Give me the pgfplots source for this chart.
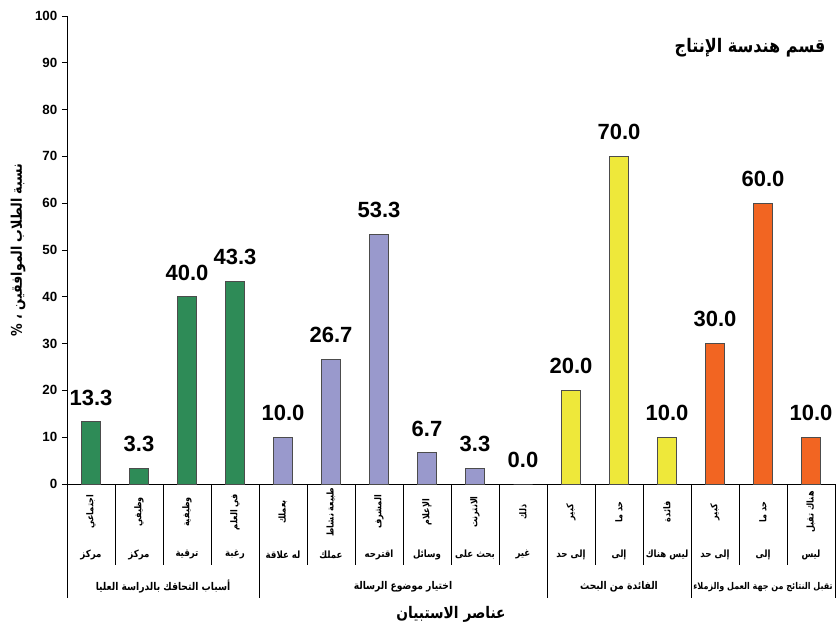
\documentclass[border=0pt]{standalone}
\usepackage{fontspec}
\setmainfont{Liberation Sans}
\newfontfamily\ar[Script=Arabic, FakeStretch=0.86]{DejaVu Sans}
\TeXXeTstate=1
\usepackage{pgfplots}
\pgfplotsset{compat=1.18}
\newcommand\AR[1]{{\ar\bfseries\beginR #1\endR}}

\definecolor{grn}{RGB}{46,139,87}
\definecolor{prp}{RGB}{153,153,204}
\definecolor{ylw}{RGB}{238,232,58}
\definecolor{orn}{RGB}{242,101,34}

\begin{document}
\begin{tikzpicture}
\useasboundingbox (-50.25pt,-108pt) rectangle (577.5pt,363pt);
\begin{axis}[
    scale only axis,
    width=576pt, height=351pt,
    xmin=-0.5, xmax=15.5,
    ymin=0, ymax=100,
    ytick={0,10,...,100},
    xtick=\empty,
    axis x line=bottom, axis y line=left,
    axis line style={-, line width=0.6pt},
    tick align=outside,
    major tick length=3.75pt,
    tick style={line width=0.6pt, black},
    y tick label style={font=\bfseries\fontsize{10}{11}\selectfont},
    /pgf/number format/assume math mode=true,
    ybar, bar width=14.25pt,
    clip=false,
    nodes near coords={\pgfmathprintnumber[fixed,zerofill,precision=1,assume math mode=true]{\pgfplotspointmeta}},
    every node near coord/.append style={font=\bfseries\fontsize{16.5}{18}\selectfont, inner sep=0pt, yshift=12pt},
  ]

  % asbab
  \addplot[fill=grn, draw=black!70, line width=0.6pt, bar shift=0pt] coordinates {
    (0,13.3) (1,3.3) (2,40.0) (3,43.3)
  };
  % ikhtiyar mawdoo3
  \addplot[fill=prp, draw=black!70, line width=0.6pt, bar shift=0pt] coordinates {
    (4,10.0) (5,26.7) (6,53.3) (7,6.7) (8,3.3) (9,0.0)
  };
  % fa2ida
  \addplot[fill=ylw, draw=black!70, line width=0.6pt, bar shift=0pt] coordinates {
    (10,20.0) (11,70.0) (12,10.0)
  };
  % taqabbul
  \addplot[fill=orn, draw=black!70, line width=0.6pt, bar shift=0pt] coordinates {
    (13,30.0) (14,60.0) (15,10.0)
  };

  % category table lines
  \pgfplotsinvokeforeach{0.5,1.5,2.5,4.5,5.5,6.5,7.5,8.5,10.5,11.5,13.5,14.5}{
    \draw[line width=0.6pt] (axis cs:#1,0) -- ([yshift=-60.75pt]axis cs:#1,0);
  }
  \pgfplotsinvokeforeach{-0.5,3.5,9.5,12.5,15.5}{
    \draw[line width=0.6pt] (axis cs:#1,0) -- ([yshift=-85.5pt]axis cs:#1,0);
  }

  % rotated top row
  \begin{scope}[every node/.style={rotate=90, font=\fontsize{7}{8}\selectfont}]
  \node at ([yshift=-21pt]axis cs:0,0) {\AR{اجتماعي}};
  \node at ([yshift=-21pt]axis cs:1,0) {\AR{وظيفي}};
  \node at ([yshift=-21pt]axis cs:2,0) {\AR{وظيفية}};
  \node at ([yshift=-21pt]axis cs:3,0) {\AR{في العلم}};
  \node at ([yshift=-21pt]axis cs:4,0) {\AR{بعملك}};
  \node at ([yshift=-21pt]axis cs:5,0) {\AR{طبيعة نشاط}};
  \node at ([yshift=-21pt]axis cs:6,0) {\AR{المشرف}};
  \node at ([yshift=-21pt]axis cs:7,0) {\AR{الإعلام}};
  \node at ([yshift=-21pt]axis cs:8,0) {\AR{الانترنت}};
  \node at ([yshift=-21pt]axis cs:9,0) {\AR{ذلك}};
  \node at ([yshift=-21pt]axis cs:10,0) {\AR{كبير}};
  \node at ([yshift=-21pt]axis cs:11,0) {\AR{حد ما}};
  \node at ([yshift=-21pt]axis cs:12,0) {\AR{فائدة}};
  \node at ([yshift=-21pt]axis cs:13,0) {\AR{كبير}};
  \node at ([yshift=-21pt]axis cs:14,0) {\AR{حد ما}};
  \node at ([yshift=-21pt]axis cs:15,0) {\AR{هناك تقبل}};
  \end{scope}

  % middle row
  \begin{scope}[every node/.style={font=\fontsize{7.5}{8}\selectfont}]
  \node at ([yshift=-53pt]axis cs:0,0) {\AR{مركز}};
  \node at ([yshift=-53pt]axis cs:1,0) {\AR{مركز}};
  \node at ([yshift=-53pt]axis cs:2,0) {\AR{ترقية}};
  \node at ([yshift=-53pt]axis cs:3,0) {\AR{رغبة}};
  \node at ([yshift=-53pt]axis cs:4,0) {\AR{له علاقة}};
  \node at ([yshift=-53pt]axis cs:5,0) {\AR{عملك}};
  \node at ([yshift=-53pt]axis cs:6,0) {\AR{اقترحه}};
  \node at ([yshift=-53pt]axis cs:7,0) {\AR{وسائل}};
  \node at ([yshift=-53pt]axis cs:8,0) {\AR{بحث على}};
  \node at ([yshift=-53pt]axis cs:9,0) {\AR{غير}};
  \node at ([yshift=-53pt]axis cs:10,0) {\AR{إلى حد}};
  \node at ([yshift=-53pt]axis cs:11,0) {\AR{إلى}};
  \node at ([yshift=-53pt]axis cs:12,0) {\AR{ليس هناك}};
  \node at ([yshift=-53pt]axis cs:13,0) {\AR{إلى حد}};
  \node at ([yshift=-53pt]axis cs:14,0) {\AR{إلى}};
  \node at ([yshift=-53pt]axis cs:15,0) {\AR{ليس}};
  \end{scope}

  % group names
  \begin{scope}[every node/.style={font=\fontsize{8}{9}\selectfont}]
  \node at ([yshift=-77pt]axis cs:1.5,0) {\AR{أسباب التحاقك بالدراسة العليا}};
  \node at ([yshift=-77pt]axis cs:6.5,0) {\AR{اختيار موضوع الرسالة}};
  \node at ([yshift=-77pt]axis cs:11,0) {\AR{الفائدة من البحث}};
  \node[font=\fontsize{7}{8}\selectfont] at ([yshift=-77pt]axis cs:14,0) {\AR{تقبل النتائج من جهة العمل والزملاء}};
  \end{scope}

  % axis titles
  \node[font=\fontsize{12}{14}\selectfont] at ([yshift=-98pt]axis cs:7.5,0) {\AR{عناصر الاستبيان}};
  \node[rotate=90, font=\fontsize{11}{13}\selectfont] at ([xshift=-36.75pt]axis description cs:0,0.5) {\AR{نسبة الطلاب الموافقين ، \%}};
  \node[font=\fontsize{14}{16}\selectfont] at (axis cs:13.73,93.2) {\AR{قسم هندسة الإنتاج}};

\end{axis}
\end{tikzpicture}
\end{document}
